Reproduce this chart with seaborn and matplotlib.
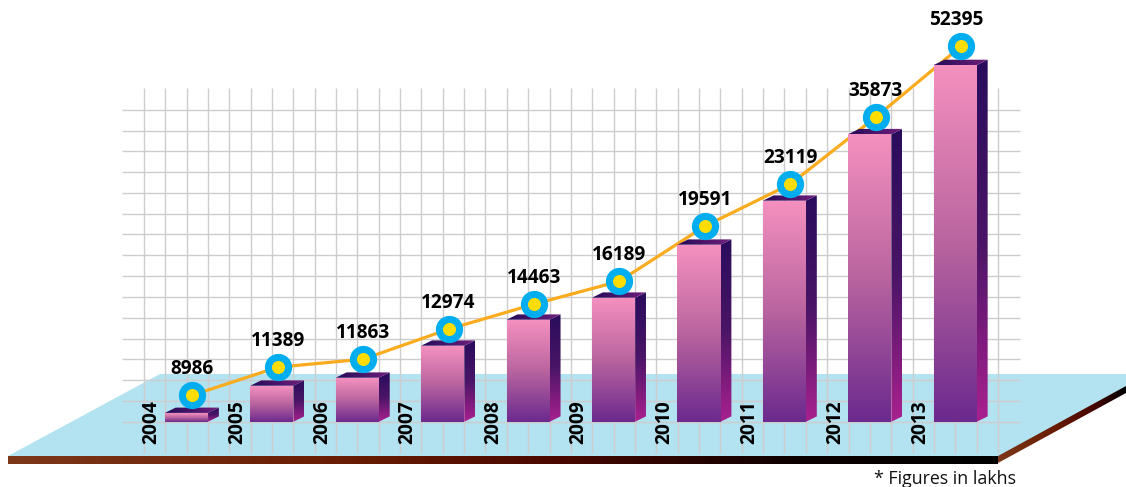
import numpy as np
import pandas as pd
import seaborn as sns
from matplotlib import pyplot as plt
from matplotlib.colors import LinearSegmentedColormap
from matplotlib.patches import Polygon

years = ["2004", "2005", "2006", "2007", "2008", "2009", "2010", "2011", "2012", "2013"]
labels = ["8986", "11389", "11863", "12974", "14463", "16189", "19591", "23119", "35873", "52395"]
# the drawn heights don't follow the printed figures, so both are read off the picture
bar_heights = [8.8, 36, 44, 76, 102, 124, 177, 221, 287.5, 356.7]
marker_heights = [26.5, 54.5, 62.5, 92.5, 117.5, 140.5, 195.5, 237.5, 304.5, 375.5]

W, H = 1126, 487
BASE = 421.7
STEP = 85.42
X0 = 186.5

sns.set_theme(style="white")
plt.rcParams["font.family"] = ["Open Sans", "DejaVu Sans"]

fig = plt.figure(figsize=(W / 100, H / 100), dpi=100, facecolor="white")

# --------------------------------------------------------
# floor, in pixel coordinates
bg = fig.add_axes([0, 0, 1, 1])
bg.set_xlim(0, W)
bg.set_ylim(H, 0)
bg.axis("off")

floor = Polygon([(8, 456), (160, 374), (W, 374), (W, 386), (998, 457)], fc="#b3e2f0", ec="none")
bg.add_patch(floor)

front_cmap = LinearSegmentedColormap.from_list(
    "front", [(0, "#7d3719"), (0.35, "#681c03"), (0.55, "#4a0800"), (0.8, "#0c0000"), (1, "#000000")])
side_cmap = LinearSegmentedColormap.from_list(
    "side", [(0, "#7d3719"), (0.45, "#681c03"), (0.75, "#460500"), (1, "#000000")])
grad = np.linspace(0, 1, 256).reshape(1, -1)

im = bg.imshow(grad, extent=(8, 998, 464, 456), cmap=front_cmap, aspect="auto", zorder=2)
im = bg.imshow(grad, extent=(998, W, 464, 386), cmap=side_cmap, aspect="auto", zorder=2)
im.set_clip_path(Polygon([(998, 456), (W, 386), (W, 393), (998, 463)], transform=bg.transData))
bg.set_xlim(0, W)
bg.set_ylim(H, 0)
bg.text(874, 479, "* Figures in lakhs", fontsize=12.8, color="#111111", va="center", ha="left")

# --------------------------------------------------------
ax = fig.add_axes([0, 0, 1, 1], facecolor="none")
df = pd.DataFrame({"year": years, "height": bar_heights})
sns.barplot(data=df, x="year", y="height", width=0.505, color="#B9649F", ax=ax, zorder=4, saturation=1)


def setLimits():
    ax.set_xlim(-X0 / STEP, (W - X0) / STEP)
    ax.set_ylim(BASE - H, BASE)


setLimits()

# grid
grid_x = -0.5 + 0.25 * np.arange(41)
grid_y = 20.8 * np.arange(16)
ax.vlines(grid_x, BASE - 453, BASE - 88, color="#cdcdcd", lw=1.0, zorder=2)
ax.hlines(grid_y, (122 - X0) / STEP, (1020 - X0) / STEP, color="#cdcdcd", lw=1.0, zorder=2)

# 3d look: gradients on the bars seaborn drew, plus side and top faces
face_cmap = LinearSegmentedColormap.from_list("face", ["#f490bf", "#b9649f", "#6c2a8e"])
side_face = LinearSegmentedColormap.from_list("sidef", ["#2a0c5c", "#4a1566", "#a9218f"])
top_face = LinearSegmentedColormap.from_list("topf", ["#250b58", "#701f7c"])
dx = 10.8 / STEP
dy = 5.3
vgrad = np.linspace(0, 1, 128).reshape(-1, 1)
hgrad = np.linspace(0, 1, 128).reshape(1, -1)


def gradFace(pts, data, cmap, extent, z):
    clip = Polygon(pts, transform=ax.transData)
    g = ax.imshow(data, extent=extent, cmap=cmap, aspect="auto", zorder=z, origin="upper")
    g.set_clip_path(clip)


for bar in list(ax.patches):
    x1, w, h = bar.get_x(), bar.get_width(), bar.get_height()
    x2 = x1 + w
    bar.set_visible(False)
    gradFace([(x1, 0), (x2, 0), (x2, h), (x1, h)], vgrad, face_cmap, (x1, x2, 0, h), 5)
    gradFace([(x2, 0), (x2 + dx, dy), (x2 + dx, h + dy), (x2, h)], vgrad, side_face, (x2, x2 + dx, 0, h + dy), 5)
    gradFace([(x1, h), (x2, h), (x2 + dx, h + dy), (x1 + dx, h + dy)], hgrad, top_face, (x1, x2 + dx, h, h + dy), 5)

setLimits()

# trend line and its round markers
marker_x = np.arange(len(years)) + 0.068
sns.lineplot(x=marker_x, y=marker_heights, color="#fbab1e", lw=2.3, ax=ax, zorder=3, sort=False, errorbar=None)
sns.scatterplot(x=marker_x, y=marker_heights, s=385, color="#00aeef", linewidth=0, ax=ax, zorder=6)
sns.scatterplot(x=marker_x, y=marker_heights, s=88, color="#ffdd00", linewidth=0, ax=ax, zorder=7)

for i, lab in enumerate(labels):
    # the last figure sits a little left of its marker
    shift = -0.06 if lab == "52395" else 0
    ax.text(marker_x[i] + shift, marker_heights[i] + 26, lab, fontsize=13.8, fontweight="bold",
            color="black", ha="center", va="center", zorder=8)
    ax.text(i - 0.41, BASE - 422, years[i], fontsize=13.8, fontweight="bold", rotation=90,
            color="black", ha="center", va="center", zorder=8)

setLimits()
ax.axis("off")
plt.savefig("out.png", dpi=100)
